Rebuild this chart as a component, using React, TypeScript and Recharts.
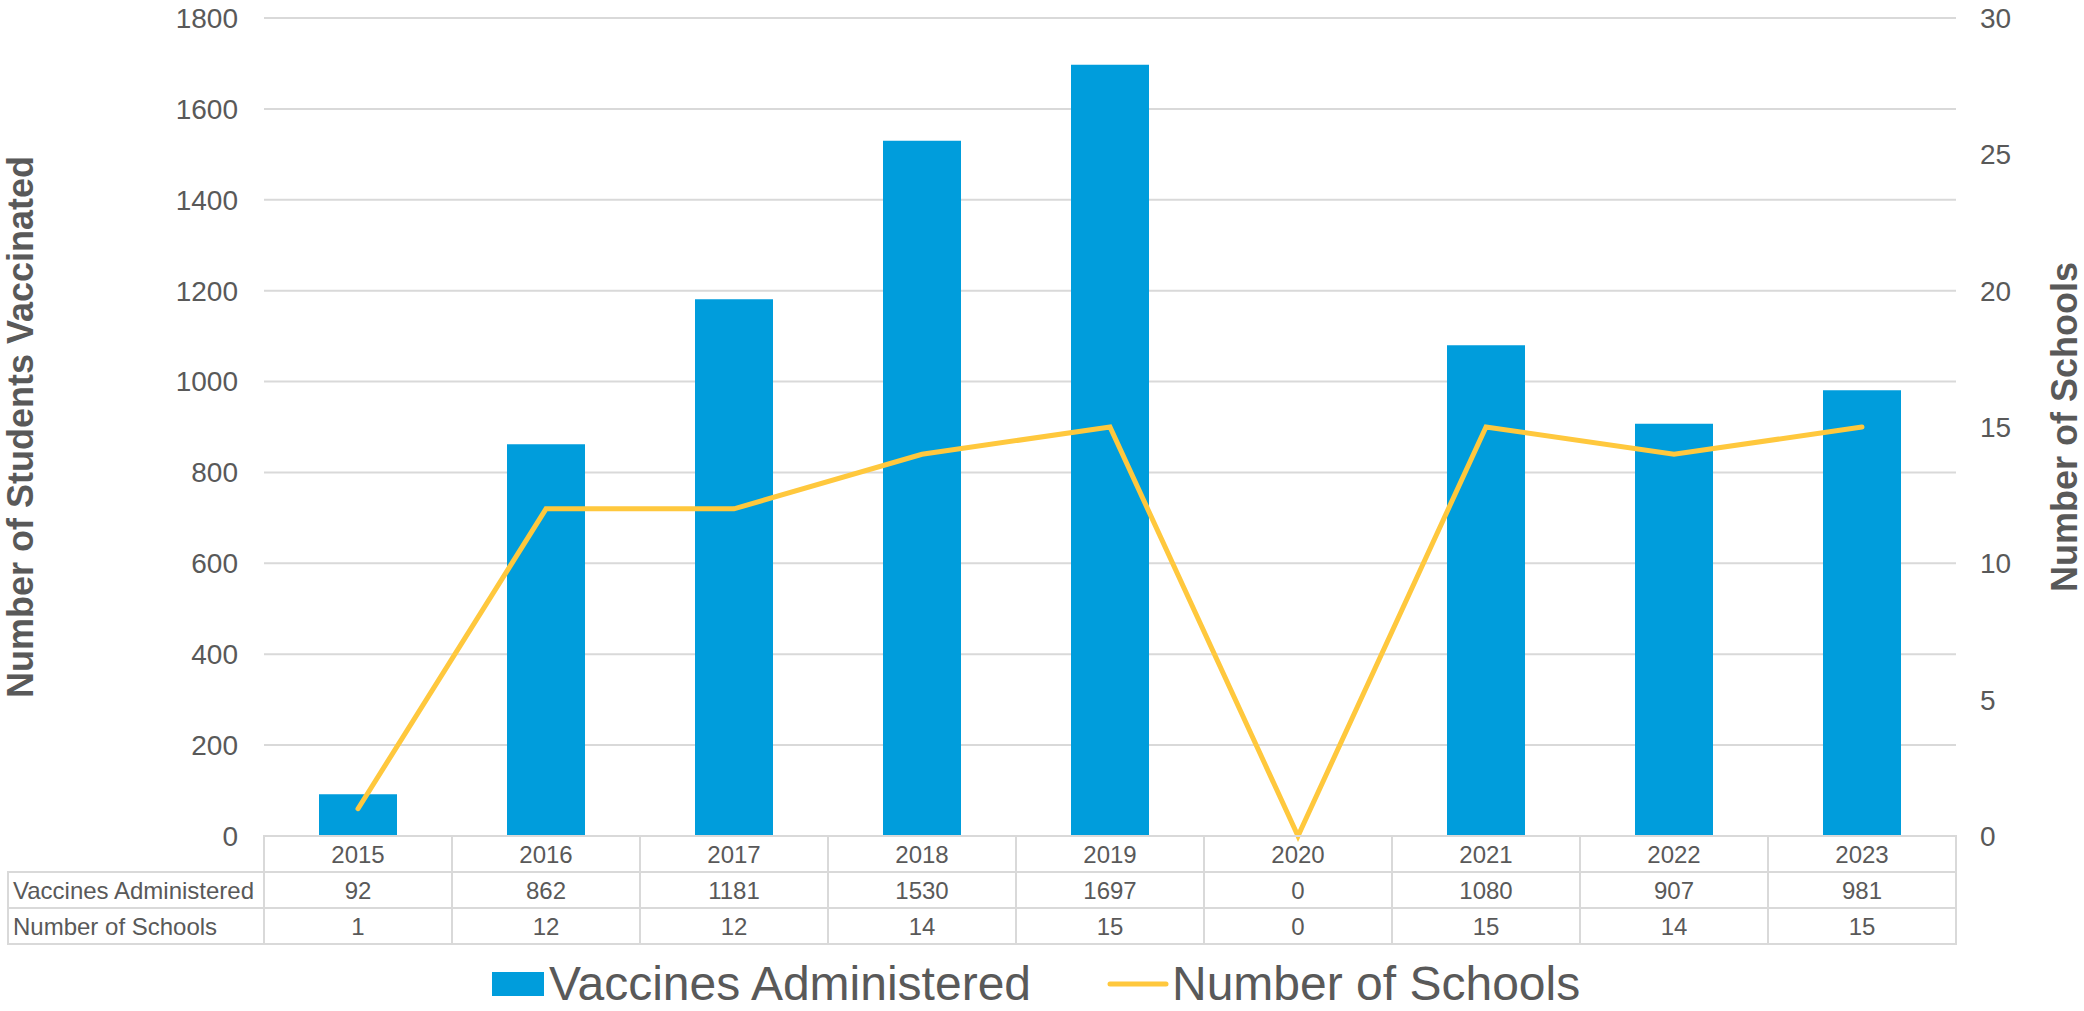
import React from 'react';
import {
  ComposedChart,
  Bar,
  Line,
  XAxis,
  YAxis,
  CartesianGrid,
  Legend,
} from 'recharts';

const years = ['2015', '2016', '2017', '2018', '2019', '2020', '2021', '2022', '2023'];
const vaccines = [92, 862, 1181, 1530, 1697, 0, 1080, 907, 981];
const schools = [1, 12, 12, 14, 15, 0, 15, 14, 15];
const leftTicks = [0, 200, 400, 600, 800, 1000, 1200, 1400, 1600, 1800];
const rightTicks = [0, 5, 10, 15, 20, 25, 30];

const BAR_NAME = 'Vaccines Administered';
const LINE_NAME = 'Number of Schools';

const data = years.map((year, i) => ({
  year,
  vaccines: vaccines[i],
  schools: schools[i],
}));

const W = 2084;
const H = 1011;
const LEFT_AXIS_W = 264;
const RIGHT_AXIS_W = 128;
const PLOT_W = W - LEFT_AXIS_W - RIGHT_AXIS_W;
const TABLE_H = 108;
const LEGEND_H = 67;

const FONT = '"Liberation Sans", Arial, sans-serif';
const TEXT = '#595959';
const GRID = '#d9d9d9';
const BLUE = '#009ddc';
const YELLOW = '#ffc83d';

// x axis drawn as the data table under the plot
const TableTick = (props: any) => {
  const { x, y, payload, index } = props;
  const band = PLOT_W / years.length;
  const rowH = TABLE_H / 3;
  const left = x - band / 2;
  const rows = [years[index], String(vaccines[index]), String(schools[index])];
  return (
    <g>
      {index === 0 && (
        <g>
          {[BAR_NAME, LINE_NAME].map((name, r) => (
            <g key={name}>
              <rect
                x={8}
                y={y + rowH * (r + 1)}
                width={left - 8}
                height={rowH}
                fill="none"
                stroke={GRID}
                strokeWidth={2}
              />
              <text
                x={13}
                y={y + rowH * (r + 1.5)}
                dominantBaseline="central"
                fontSize={24}
                fontFamily={FONT}
                fill={TEXT}
              >
                {name}
              </text>
            </g>
          ))}
        </g>
      )}
      {rows.map((val, r) => (
        <g key={r}>
          <rect
            x={left}
            y={y + rowH * r}
            width={band}
            height={rowH}
            fill="none"
            stroke={GRID}
            strokeWidth={2}
          />
          <text
            x={x}
            y={y + rowH * (r + 0.5)}
            textAnchor="middle"
            dominantBaseline="central"
            fontSize={24}
            fontFamily={FONT}
            fill={TEXT}
          >
            {r === 0 ? payload.value : val}
          </text>
        </g>
      ))}
    </g>
  );
};

const axisTitle = (text: string, dx: number) => (props: any) => {
  const { viewBox } = props;
  const cx = viewBox.x + dx;
  const cy = viewBox.y + viewBox.height / 2;
  return (
    <text
      x={cx}
      y={cy}
      transform={`rotate(-90, ${cx}, ${cy})`}
      textAnchor="middle"
      dominantBaseline="central"
      fontSize={36}
      fontWeight="bold"
      fontFamily={FONT}
      fill={TEXT}
    >
      {text}
    </text>
  );
};

const LegendContent = () => (
  <div
    style={{
      position: 'relative',
      width: W,
      height: LEGEND_H,
      fontFamily: FONT,
      fontSize: 48,
      lineHeight: '40px',
      color: TEXT,
    }}
  >
    <div style={{ position: 'absolute', left: 492, top: 28, width: 52, height: 24, background: BLUE }} />
    <div style={{ position: 'absolute', left: 549, top: 20, whiteSpace: 'nowrap' }}>{BAR_NAME}</div>
    <svg style={{ position: 'absolute', left: 1105, top: 33 }} width={66} height={14}>
      <line x1={5} y1={7} x2={61} y2={7} stroke={YELLOW} strokeWidth={5} strokeLinecap="round" />
    </svg>
    <div style={{ position: 'absolute', left: 1172, top: 20, whiteSpace: 'nowrap' }}>{LINE_NAME}</div>
  </div>
);

export default function App() {
  const tickStyle = { fill: TEXT, fontSize: 28, fontFamily: FONT };
  return (
    <div style={{ position: 'absolute', left: 0, top: 0, width: W, height: H, background: '#fff' }}>
      <ComposedChart
        width={W}
        height={H}
        data={data}
        margin={{ top: 18, right: 0, bottom: 0, left: 0 }}
      >
        <CartesianGrid yAxisId="left" vertical={false} stroke={GRID} strokeWidth={2} />
        <XAxis
          dataKey="year"
          height={TABLE_H}
          axisLine={false}
          tickLine={false}
          tickSize={0}
          tickMargin={0}
          interval={0}
          tick={<TableTick />}
        />
        <YAxis
          yAxisId="left"
          orientation="left"
          width={LEFT_AXIS_W}
          domain={[0, 1800]}
          ticks={leftTicks}
          axisLine={false}
          tickLine={false}
          tickSize={0}
          tickMargin={26}
          tick={tickStyle}
          label={{ content: axisTitle('Number of Students Vaccinated', 20) }}
        />
        <YAxis
          yAxisId="right"
          orientation="right"
          width={RIGHT_AXIS_W}
          domain={[0, 30]}
          ticks={rightTicks}
          axisLine={false}
          tickLine={false}
          tickSize={0}
          tickMargin={24}
          tick={{ ...tickStyle, textAnchor: 'start' }}
          label={{ content: axisTitle('Number of Schools', 108) }}
        />
        <Legend
          verticalAlign="bottom"
          height={LEGEND_H}
          wrapperStyle={{ height: LEGEND_H }}
          content={<LegendContent />}
        />
        <Bar
          yAxisId="left"
          dataKey="vaccines"
          name={BAR_NAME}
          fill={BLUE}
          barSize={78}
          isAnimationActive={false}
        />
        <Line
          yAxisId="right"
          dataKey="schools"
          name={LINE_NAME}
          type="linear"
          stroke={YELLOW}
          strokeWidth={5}
          strokeLinecap="round"
          dot={false}
          activeDot={false}
          isAnimationActive={false}
        />
      </ComposedChart>
    </div>
  );
}
